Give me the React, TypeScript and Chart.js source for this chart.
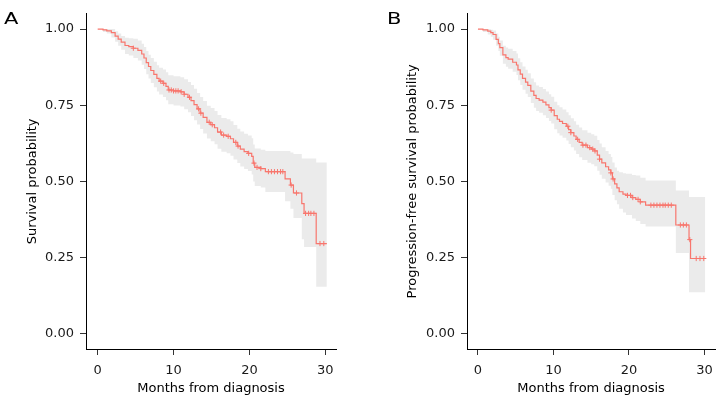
import React, { useEffect, useRef } from "react";
import { Chart, registerables } from "chart.js";

Chart.register(...registerables);

const FONT = "DejaVu Sans";
const RED = "#F8766D";
const BAND = "#EBEBEB";

const X_TICKS = [0, 10, 20, 30];
const Y_TICKS = [0, 0.25, 0.5, 0.75, 1];
const X_TITLE = "Months from diagnosis";

// Panel A: overall survival (step times, estimate, CI)
const timeA = [0, 0.7, 1.2, 1.8, 2.3, 2.7, 3.1, 3.6, 4.1, 4.7, 5.3, 5.8, 6.1, 6.4, 6.7, 7.0, 7.4, 7.8, 8.1, 8.6, 9.0, 9.3, 10.0, 10.9, 11.4, 11.9, 12.3, 12.7, 13.1, 13.5, 13.9, 14.4, 14.9, 15.4, 15.8, 16.3, 17.0, 17.5, 17.9, 18.4, 18.8, 19.3, 19.8, 20.3, 20.5, 20.7, 21.5, 22.1, 24.7, 25.4, 25.8, 26.9, 27.2, 28.8, 30.2];
const survA = [1.0, 0.997, 0.994, 0.988, 0.977, 0.967, 0.957, 0.946, 0.942, 0.937, 0.93, 0.918, 0.905, 0.89, 0.877, 0.864, 0.851, 0.838, 0.829, 0.822, 0.812, 0.8, 0.797, 0.794, 0.786, 0.776, 0.765, 0.752, 0.738, 0.724, 0.71, 0.694, 0.686, 0.676, 0.662, 0.652, 0.648, 0.64, 0.628, 0.616, 0.606, 0.598, 0.592, 0.582, 0.56, 0.546, 0.542, 0.532, 0.508, 0.488, 0.462, 0.427, 0.395, 0.296, 0.296];
const upperA = [1.0, 1.0, 1.0, 1.0, 0.993, 0.985, 0.977, 0.971, 0.97, 0.968, 0.962, 0.952, 0.941, 0.928, 0.916, 0.905, 0.893, 0.881, 0.873, 0.867, 0.858, 0.848, 0.845, 0.842, 0.835, 0.826, 0.816, 0.804, 0.79, 0.777, 0.764, 0.748, 0.741, 0.731, 0.718, 0.708, 0.704, 0.697, 0.685, 0.673, 0.664, 0.656, 0.651, 0.642, 0.621, 0.608, 0.604, 0.6, 0.6, 0.595, 0.59, 0.575, 0.575, 0.562, 0.562];
const lowerA = [1.0, 0.99, 0.985, 0.972, 0.958, 0.945, 0.932, 0.918, 0.913, 0.905, 0.897, 0.883, 0.869, 0.852, 0.838, 0.823, 0.809, 0.795, 0.785, 0.777, 0.766, 0.753, 0.749, 0.746, 0.737, 0.727, 0.715, 0.701, 0.687, 0.672, 0.657, 0.641, 0.632, 0.622, 0.607, 0.597, 0.592, 0.584, 0.572, 0.56, 0.549, 0.541, 0.534, 0.523, 0.5, 0.485, 0.48, 0.465, 0.435, 0.41, 0.38, 0.31, 0.285, 0.154, 0.154];
const censorA = [4.7, 8.3, 8.7, 9.4, 9.7, 10.0, 10.3, 10.6, 11.0, 11.4, 12.1, 13.3, 13.6, 14.7, 15.1, 16.2, 16.6, 17.2, 18.2, 18.5, 19.9, 20.6, 21.0, 21.5, 22.5, 22.9, 23.3, 23.7, 24.1, 24.4, 25.5, 26.2, 27.4, 27.8, 28.1, 28.5, 29.3, 29.8];

// Panel B: progression-free survival
const timeB = [0, 0.66, 1.3, 1.7, 2.0, 2.4, 2.7, 2.9, 3.3, 3.7, 4.0, 4.6, 5.1, 5.3, 5.6, 5.9, 6.3, 6.6, 7.0, 7.4, 7.7, 8.1, 8.6, 9.0, 9.4, 9.7, 10.1, 10.5, 10.8, 11.2, 11.7, 12.0, 12.3, 12.7, 13.0, 13.4, 13.8, 14.5, 15.0, 15.4, 15.8, 16.1, 16.4, 16.9, 17.3, 17.6, 17.8, 18.1, 18.4, 18.7, 19.2, 19.6, 20.4, 20.9, 21.5, 22.2, 26.2, 27.95, 28.15, 30.1];
const survB = [1, 0.997, 0.993, 0.988, 0.982, 0.966, 0.952, 0.939, 0.915, 0.906, 0.901, 0.891, 0.882, 0.866, 0.852, 0.838, 0.826, 0.815, 0.796, 0.782, 0.772, 0.767, 0.76, 0.751, 0.742, 0.734, 0.716, 0.704, 0.697, 0.69, 0.681, 0.67, 0.66, 0.649, 0.638, 0.628, 0.619, 0.611, 0.606, 0.6, 0.586, 0.573, 0.561, 0.548, 0.538, 0.528, 0.508, 0.492, 0.479, 0.466, 0.458, 0.454, 0.447, 0.441, 0.433, 0.422, 0.357, 0.309, 0.247, 0.247];
const upperB = [1, 1, 1, 0.998, 0.995, 0.985, 0.975, 0.962, 0.945, 0.939, 0.935, 0.928, 0.92, 0.904, 0.891, 0.877, 0.866, 0.855, 0.838, 0.825, 0.815, 0.81, 0.803, 0.795, 0.786, 0.778, 0.761, 0.75, 0.743, 0.736, 0.727, 0.717, 0.707, 0.697, 0.686, 0.677, 0.668, 0.66, 0.655, 0.65, 0.636, 0.624, 0.612, 0.6, 0.59, 0.58, 0.562, 0.546, 0.535, 0.53, 0.527, 0.525, 0.521, 0.519, 0.512, 0.503, 0.47, 0.449, 0.449, 0.449];
const lowerB = [1, 0.99, 0.982, 0.975, 0.965, 0.945, 0.928, 0.912, 0.886, 0.876, 0.87, 0.86, 0.849, 0.832, 0.816, 0.801, 0.788, 0.777, 0.757, 0.742, 0.731, 0.725, 0.717, 0.708, 0.698, 0.69, 0.671, 0.658, 0.651, 0.643, 0.634, 0.623, 0.612, 0.601, 0.59, 0.579, 0.57, 0.561, 0.556, 0.55, 0.535, 0.522, 0.509, 0.496, 0.486, 0.476, 0.455, 0.438, 0.425, 0.41, 0.398, 0.39, 0.378, 0.37, 0.36, 0.352, 0.265, 0.136, 0.136, 0.136];
const censorB = [9.7, 11.9, 12.3, 13.2, 13.9, 14.3, 14.8, 15.2, 15.5, 16.1, 17.6, 17.9, 19.8, 20.2, 20.5, 21.2, 21.5, 22.9, 23.3, 23.7, 24.1, 24.5, 24.8, 25.2, 25.6, 26.8, 27.2, 27.6, 28.05, 28.9, 29.4, 29.9];

function stepValue(times: number[], vals: number[], t: number) {
  let v = vals[0];
  for (let i = 0; i < times.length; i++) {
    if (times[i] <= t) v = vals[i];
  }
  return v;
}

type PanelProps = {
  times: number[];
  surv: number[];
  upper: number[];
  lower: number[];
  censor: number[];
  yTitle: string;
  width: number;
  left: number;
  yAxisWidth: number;
  padRight: number;
  yTitlePad: number;
  xMin: number;
  xMax: number;
};

function KMPanel(p: PanelProps) {
  const ref = useRef<HTMLCanvasElement>(null);
  useEffect(() => {
    const canvas = ref.current!;
    const pts = (arr: number[]) => p.times.map((t, i) => ({ x: t, y: arr[i] }));
    const censorPts = p.censor.map((t) => ({ x: t, y: stepValue(p.times, p.surv, t) }));
    const tickFont = { family: FONT, size: 13 };
    const chart = new Chart(canvas, {
      type: "line",
      data: {
        datasets: [
          {
            type: "scatter",
            data: censorPts,
            pointStyle: "cross",
            pointRadius: 2.6,
            pointBorderWidth: 1,
            borderColor: RED,
            backgroundColor: RED,
            showLine: false,
            order: 0,
          } as any,
          {
            data: pts(p.surv),
            stepped: "before",
            borderColor: RED,
            borderWidth: 1.2,
            pointRadius: 0,
            fill: false,
            order: 1,
          },
          {
            data: pts(p.upper),
            stepped: "before",
            borderColor: "rgba(0,0,0,0)",
            borderWidth: 1,
            pointRadius: 0,
            fill: "+1",
            backgroundColor: BAND,
            order: 2,
          },
          {
            data: pts(p.lower),
            stepped: "before",
            borderColor: "rgba(0,0,0,0)",
            borderWidth: 1,
            pointRadius: 0,
            fill: false,
            order: 3,
          },
        ],
      },
      options: {
        animation: false,
        responsive: false,
        devicePixelRatio: 1,
        events: [],
        layout: { padding: { top: 9, right: p.padRight, bottom: 0, left: 0 } },
        plugins: { legend: { display: false }, tooltip: { enabled: false } },
        scales: {
          x: {
            type: "linear",
            min: p.xMin,
            max: p.xMax,
            afterBuildTicks: (s: any) => {
              s.ticks = X_TICKS.map((v) => ({ value: v }));
            },
            afterFit: (s: any) => {
              s.height = 51;
            },
            grid: { display: true, drawOnChartArea: false, tickLength: 6, tickColor: "#333", color: "#333" },
            border: { display: true, color: "#000", width: 1 },
            ticks: { color: "#1a1a1a", font: tickFont, padding: 8, maxRotation: 0, autoSkip: false },
            title: {
              display: true,
              text: X_TITLE,
              color: "#000",
              font: { family: FONT, size: 13 },
              padding: { top: 0, bottom: 3.6 },
            },
          },
          y: {
            type: "linear",
            min: -0.05,
            max: 1.05,
            afterBuildTicks: (s: any) => {
              s.ticks = Y_TICKS.map((v) => ({ value: v }));
            },
            afterFit: (s: any) => {
              s.width = p.yAxisWidth;
            },
            grid: { display: true, drawOnChartArea: false, tickLength: 6, tickColor: "#333", color: "#333" },
            border: { display: true, color: "#000", width: 1 },
            ticks: {
              color: "#1a1a1a",
              font: tickFont,
              padding: 6,
              callback: (v: any) => Number(v).toFixed(2),
            },
            title: {
              display: true,
              text: p.yTitle,
              color: "#000",
              font: { family: FONT, size: 13 },
              padding: { top: p.yTitlePad, bottom: 0 },
            },
          },
        },
      },
    } as any);
    return () => chart.destroy();
  }, []);
  return (
    <canvas
      ref={ref}
      width={p.width}
      height={400}
      style={{ position: "absolute", left: p.left, top: 0, width: p.width, height: 400, display: "block" }}
    />
  );
}

const labelStyle: React.CSSProperties = {
  position: "absolute",
  top: 12.3,
  fontFamily: FONT,
  fontSize: 15,
  lineHeight: "15px",
  color: "#000",
  transform: "scaleX(1.4)",
  transformOrigin: "left",
};

export default function App() {
  return (
    <div style={{ position: "absolute", left: 0, top: 0, width: 721, height: 400, background: "#fff" }}>
      <KMPanel
        times={timeA}
        surv={survA}
        upper={upperA}
        lower={lowerA}
        censor={censorA}
        yTitle="Survival probability"
        width={360}
        left={0}
        yAxisWidth={86}
        padRight={24}
        yTitlePad={24.5}
        xMin={-1.54}
        xMax={31.41}
      />
      <KMPanel
        times={timeB}
        surv={survB}
        upper={upperB}
        lower={lowerB}
        censor={censorB}
        yTitle="Progression-free survival probability"
        width={361}
        left={360}
        yAxisWidth={107}
        padRight={4}
        yTitlePad={45}
        xMin={-1.45}
        xMax={31.41}
      />
      <span style={{ ...labelStyle, left: 4 }}>A</span>
      <span style={{ ...labelStyle, left: 387 }}>B</span>
    </div>
  );
}
